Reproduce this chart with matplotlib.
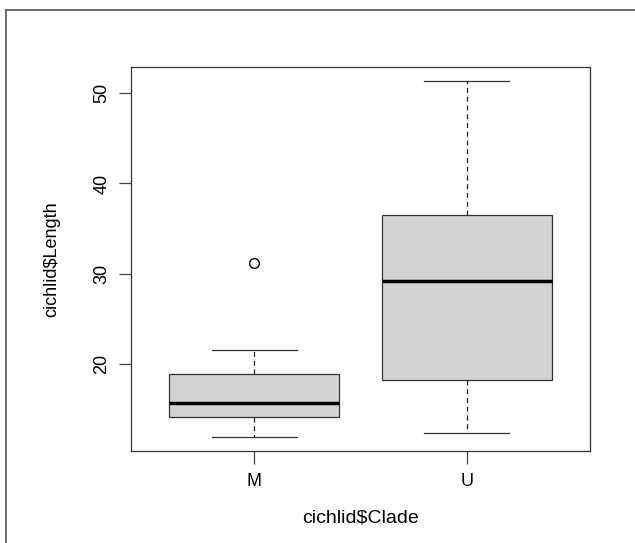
import numpy as np
import matplotlib
matplotlib.use('Agg')
import matplotlib.pyplot as plt
from matplotlib.lines import Line2D

plt.rcParams['font.family'] = ['Liberation Sans', 'DejaVu Sans']

# five-number summaries
clades = ['M', 'U']
whislo = [12.0, 12.4]
q1 = [14.2, 18.3]
med = [15.7, 29.2]
q3 = [18.9, 36.5]
whishi = [21.6, 51.3]
fliers = [[31.2], []]

stats = []
for i in range(len(clades)):
    stats.append(dict(label=clades[i], whislo=whislo[i], q1=q1[i], med=med[i],
                      q3=q3[i], whishi=whishi[i], fliers=fliers[i]))

W, H = 635, 543
fig = plt.figure(figsize=(W / 100, H / 100), dpi=100)
ax = fig.add_axes([131 / W, 1 - 451 / H, (590 - 131) / W, (451 - 67) / H])

ax.bxp(stats, positions=[1, 2], widths=0.8, patch_artist=True,
       boxprops=dict(facecolor='#d3d3d3', edgecolor='#333333', linewidth=0.9),
       medianprops=dict(color='black', linewidth=2.5, solid_capstyle='butt'),
       whiskerprops=dict(color='#222222', linewidth=0.9, linestyle=(0, (4, 3))),
       capprops=dict(color='#333333', linewidth=0.9),
       capwidths=0.4,
       flierprops=dict(marker='o', markersize=7, markerfacecolor='none',
                       markeredgecolor='black', markeredgewidth=1.0))

lo = min(whislo)
hi = max(whishi + [f for fl in fliers for f in fl])
pad = 0.04 * (hi - lo)
ax.set_ylim(lo - pad, hi + pad)
ax.set_xlim(0.5 - 0.04 * 2, 2.5 + 0.04 * 2)

ax.set_yticks([20, 30, 40, 50])
ax.set_yticklabels(['20', '30', '40', '50'], rotation=90, va='center')
ax.set_xticks([1, 2])
ax.set_xticklabels(clades)
ax.tick_params(axis='both', length=9, width=0.9, color='#444444', labelsize=13)
ax.tick_params(axis='y', pad=6)
ax.tick_params(axis='x', pad=7)
for s in ax.spines.values():
    s.set_linewidth(0.9)
    s.set_color('#333333')

ax.set_xlabel('cichlid$Clade', fontsize=14, labelpad=14)
ax.set_ylabel('cichlid$Length', fontsize=13, labelpad=24)

# outer frame (only the top and left edges are visible)
fig.add_artist(Line2D([6 / W, 6 / W], [0, 1 - 10 / H], transform=fig.transFigure,
                      color='#555555', linewidth=1.2))
fig.add_artist(Line2D([6 / W, 1], [1 - 10 / H, 1 - 10 / H], transform=fig.transFigure,
                      color='#555555', linewidth=1.2))

fig.savefig('out.png', dpi=100)
